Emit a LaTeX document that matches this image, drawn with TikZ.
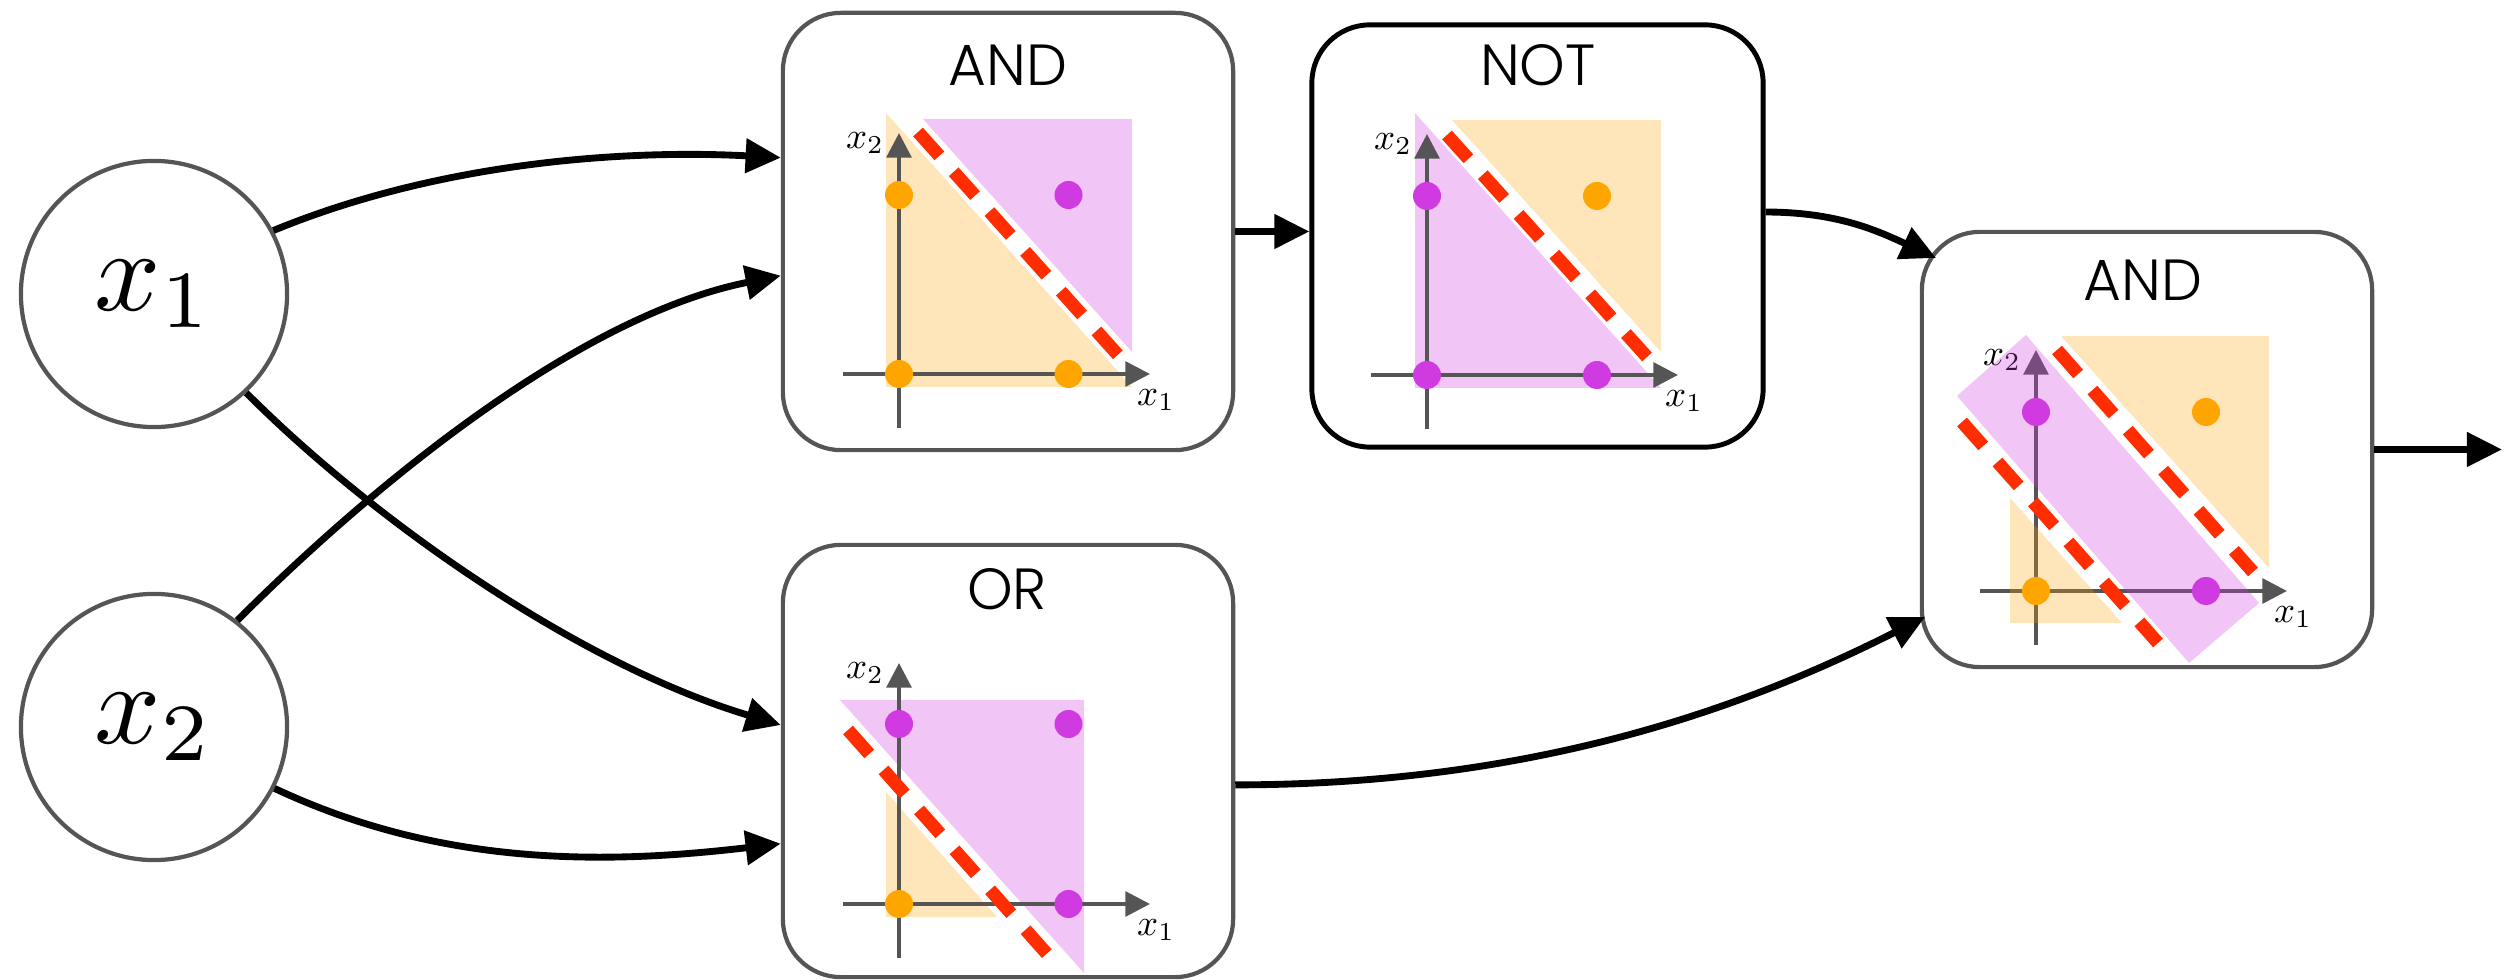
\documentclass[tikz,border=0pt]{standalone}
\usepackage{fontspec}
\usepackage{graphicx}
\IfFontExistsTF{Poppins Light}{\newfontfamily\titlefont{Poppins Light}}{\newfontfamily\titlefont{Poppins}}
\usetikzlibrary{arrows.meta,calc}
\definecolor{axisgray}{HTML}{555555}
\definecolor{boxgray}{HTML}{555555}
\definecolor{dotorange}{HTML}{FFA500}
\definecolor{dotpurple}{HTML}{CF3BE0}
\definecolor{sepred}{HTML}{FF2D00}
\tikzset{
  gatebox/.style={draw=boxgray, line width=1.2pt, rounded corners=0.58cm, fill=white, inner sep=0pt},
  gatetitle/.style={font=\titlefont\fontsize{16.5}{19}\selectfont, inner sep=0pt},
  inputnode/.style={circle, draw=boxgray, line width=1.2pt, minimum size=2.66cm, inner sep=0pt},
  plotaxis/.style={draw=axisgray, line width=1.15pt, -{Triangle[length=7pt,width=7pt]}},
  axlabel/.style={inner sep=0pt},
  sepline/.style={draw=sepred, line width=3.7pt, dash pattern=on 9.1pt off 6.1pt},
  orfill/.style={fill=dotorange, fill opacity=0.27},
  pufill/.style={fill=dotpurple, fill opacity=0.29},
  odot/.style={fill=dotorange},
  pdot/.style={fill=dotpurple},
  connector/.style={draw=black, line width=1.95pt, -{Triangle[length=10pt,width=9.5pt]}},
}
\newcommand{\myaxes}[1]{%
  \draw[plotaxis] (0,54) -- (0,-241);
  \draw[plotaxis] (-56,0) -- (251,0);
  \node[axlabel] (#1x2) at (-34,-231) {\scalebox{1.05}{$x_2$}};
  \node[axlabel] (#1x1) at (257,26) {\scalebox{1.05}{$x_1$}};
}
\begin{document}
\begin{tikzpicture}[x=0.01cm, y=-0.01cm]
\useasboundingbox (0,0) rectangle (2520,980);

% input nodes
\node[inputnode] (x1) at (154,294) {\scalebox{3.3}{$x_1$}};
\node[inputnode] (x2) at (154,727) {\scalebox{3.3}{$x_2$}};

% gate boxes
\node[gatebox, minimum width=4.5cm, minimum height=4.37cm] (and1) at (1008,231.5) {};
\node[gatebox, draw=black, line width=1.4pt, minimum width=4.51cm, minimum height=4.22cm] (not) at (1537.5,236) {};
\node[gatebox, minimum width=4.5cm, minimum height=4.32cm] (or) at (1008,761) {};
\node[gatebox, minimum width=4.5cm, minimum height=4.35cm] (and2) at (2147,449.5) {};

% titles
\node[gatetitle] (and1t) at (1008,65) {AND};
\node[gatetitle] (nott) at (1538,65) {NOT};
\node[gatetitle] (ort) at (1007,589.5) {OR};
\node[gatetitle] (and2t) at (2143,280.5) {AND};

% AND plot
\begin{scope}[shift={(899,374)}]
  \fill[orfill] (-13,-261) -- (-13,13) -- (233,13) -- cycle;
  \fill[pufill] (24,-255) -- (233,-255) -- (233,-22) -- cycle;
  \myaxes{a}
  \draw[sepline] (19,-242) -- (219,-19);
  \fill[odot] (0,0) circle[radius=0.14cm];
  \fill[odot] (169.5,0) circle[radius=0.14cm];
  \fill[odot] (0,-179) circle[radius=0.14cm];
  \fill[pdot] (169.5,-179) circle[radius=0.14cm];
\end{scope}

% NOT plot
\begin{scope}[shift={(1427,375)}]
  \fill[pufill] (-12,-262) -- (-12,13) -- (234,13) -- cycle;
  \fill[orfill] (25,-255) -- (234,-255) -- (234,-23) -- cycle;
  \myaxes{n}
  \draw[sepline] (20,-240) -- (220,-18);
  \fill[pdot] (0,0) circle[radius=0.14cm];
  \fill[pdot] (170,0) circle[radius=0.14cm];
  \fill[pdot] (0,-179) circle[radius=0.14cm];
  \fill[odot] (170,-179) circle[radius=0.14cm];
\end{scope}

% OR plot
\begin{scope}[shift={(899,904)}]
  \fill[pufill] (-59,-204) -- (185,-204) -- (185,69) -- cycle;
  \fill[orfill] (-13,-112) -- (-13,13) -- (98,13) -- cycle;
  \myaxes{o}
  \draw[sepline] (-51,-174) -- (149,51);
  \fill[odot] (0,0) circle[radius=0.14cm];
  \fill[pdot] (169.5,0) circle[radius=0.14cm];
  \fill[pdot] (0,-180) circle[radius=0.14cm];
  \fill[pdot] (169.5,-180) circle[radius=0.14cm];
\end{scope}

% final AND plot
\begin{scope}[shift={(2036,591)}]
  \myaxes{f}
  \fill[orfill] (25,-255) -- (233,-255) -- (233,-23) -- cycle;
  \fill[orfill] (-26,-93) -- (-26,32) -- (86,32) -- cycle;
  \fill[pufill] (-10,-256) -- (-79,-195) -- (153,72) -- (223,12) -- cycle;
  \draw[sepline] (21,-241) -- (217,-19);
  \draw[sepline] (-74,-169) -- (122,52);
  \fill[odot] (0,0) circle[radius=0.14cm];
  \fill[pdot] (170,0) circle[radius=0.14cm];
  \fill[pdot] (0,-179) circle[radius=0.14cm];
  \fill[odot] (170,-179) circle[radius=0.14cm];
\end{scope}

% connector end points
\coordinate (a2in1) at (1936,258);
\coordinate (a2in2) at (1925,617);
\coordinate (outc) at (2502,449.5);

% connectors
\draw[connector] (x1.28) .. controls ($(x1.28)+(170,-70)$) and ($(and1.162.5)+(-150,-8)$) .. (and1.162.5);
\draw[connector] (x2.52) .. controls ($(x2.52)+(140,-140)$) and ($(and1.191)+(-200,40)$) .. (and1.191);
\draw[connector] (x1.-47) .. controls ($(x1.-47)+(130,130)$) and ($(or.171.7)+(-200,-60)$) .. (or.171.7);
\draw[connector] (x2.-27) .. controls ($(x2.-27)+(170,80)$) and ($(or.200)+(-170,20)$) .. (or.200);
\draw[connector] (and1.east) -- (and1.east -| not.west);
\draw[connector] (not.6.6) .. controls ($(not.6.6)+(70,0)$) and ($(a2in1)+(-60,-28)$) .. (a2in1);
\draw[connector] (or.-6.1) .. controls ($(or.-6.1)+(300,0)$) and ($(a2in2)+(-178,90)$) .. (a2in2);
\draw[connector] (and2.east) -- (outc);
\end{tikzpicture}
\end{document}
